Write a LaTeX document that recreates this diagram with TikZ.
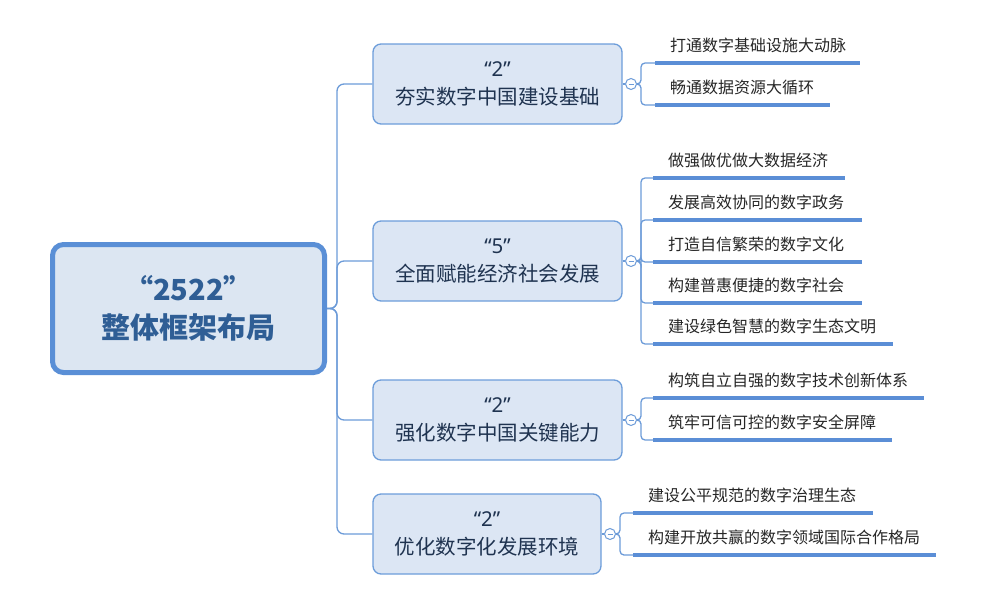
\documentclass[tikz,border=0pt]{standalone}
\usepackage{fontspec}
\usepackage{tikz}
\setmainfont{Noto Sans}
\newfontfamily\cjk{Noto Sans CJK SC}

\definecolor{rootfill}{HTML}{DCE6F2}
\definecolor{rootline}{HTML}{5A8FD6}
\definecolor{rootink}{HTML}{2F5E95}
\definecolor{boxfill}{HTML}{DCE6F4}
\definecolor{boxline}{HTML}{6D9DDA}
\definecolor{boxink}{HTML}{1F3350}
\definecolor{linkblue}{HTML}{6C9BD8}
\definecolor{ulblue}{HTML}{5B8ED6}

\begin{document}
\begin{tikzpicture}[x=1pt, y=-1pt,
		rootbox/.style={draw=rootline, line width=5pt, fill=rootfill, rounded corners=11pt,
			minimum width=272pt, minimum height=128pt, align=center, text=rootink,
			font=\fontsize{29}{38}\selectfont\cjk\bfseries},
		branchbox/.style={draw=boxline, line width=1.3pt, fill=boxfill, rounded corners=8pt,
			minimum height=80pt, align=center, text=boxink,
			font=\fontsize{20.5}{28}\selectfont},
		fold/.style={circle, draw=linkblue, line width=1pt, fill=white, inner sep=0pt,
			minimum size=11pt},
		leaf/.style={anchor=south west, inner xsep=0pt, inner ysep=8pt, text height=12pt,
			text depth=3pt, align=left, text=black!85, font=\fontsize{16}{18}\selectfont\cjk,
			execute at begin node={\hspace*{15pt}}},
		link/.style={draw=linkblue, line width=1.3pt, rounded corners=7pt},
		uline/.style={draw=ulblue, line width=4pt}]
	\useasboundingbox (0,0) rectangle (1000,589);

	% root
	\node[rootbox] (root) at (188.5,308.5) {“2522”\\整体框架布局};

	% branches
	\node[branchbox, minimum width=249pt] (b1) at (497.5,84) {“2”\\{\cjk 夯实数字中国建设基础}};
	\node[branchbox, minimum width=249pt] (b2) at (497.5,261) {“5”\\{\cjk 全面赋能经济社会发展}};
	\node[branchbox, minimum width=249pt] (b3) at (497.5,420) {“2”\\{\cjk 强化数字中国关键能力}};
	\node[branchbox, minimum width=228pt] (b4) at (487,534) {“2”\\{\cjk 优化数字化发展环境}};

	\foreach \b in {b1,b2,b3,b4}
		\draw[link] (root.east) -- ++(10,0) |- (\b.west);

	% fold markers
	\node[fold] (c1) at (631,84) {};
	\node[fold] (c2) at (631,261) {};
	\node[fold] (c3) at (631,420) {};
	\node[fold] (c4) at (610,534) {};
	\foreach \b/\c in {b1/c1,b2/c2,b3/c3,b4/c4}{
		\draw[link] (\b.east) -- (\c.west);
		\draw[linkblue, line width=0.9pt] ([xshift=-2.5pt]\c.center) -- ([xshift=2.5pt]\c.center);
	}

	% leaves
	\node[leaf, text width=205pt] (l11) at (655,63) {打通数字基础设施大动脉};
	\node[leaf, text width=175pt] (l12) at (655,105) {畅通数据资源大循环};

	\node[leaf, text width=192pt] (l21) at (653,178) {做强做优做大数据经济};
	\node[leaf, text width=209pt] (l22) at (653,220) {发展高效协同的数字政务};
	\node[leaf, text width=209pt] (l23) at (653,262) {打造自信繁荣的数字文化};
	\node[leaf, text width=209pt] (l24) at (653,303) {构建普惠便捷的数字社会};
	\node[leaf, text width=240pt] (l25) at (653,344) {建设绿色智慧的数字生态文明};

	\node[leaf, text width=271pt] (l31) at (653,398) {构筑自立自强的数字技术创新体系};
	\node[leaf, text width=239pt] (l32) at (653,440) {筑牢可信可控的数字安全屏障};

	\node[leaf, text width=240pt] (l41) at (633,513) {建设公平规范的数字治理生态};
	\node[leaf, text width=303pt] (l42) at (633,555) {构建开放共赢的数字领域国际合作格局};

	\foreach \c/\l in {c1/l11,c1/l12,c2/l21,c2/l22,c2/l23,c2/l24,c2/l25,c3/l31,c3/l32,c4/l41,c4/l42}
		\draw[link, rounded corners=4pt] (\c.east) -- ++(4,0) |- (\l.south west);
	\foreach \l in {l11,l12,l21,l22,l23,l24,l25,l31,l32,l41,l42}
		\draw[uline] (\l.south west) -- (\l.south east);
\end{tikzpicture}
\end{document}
